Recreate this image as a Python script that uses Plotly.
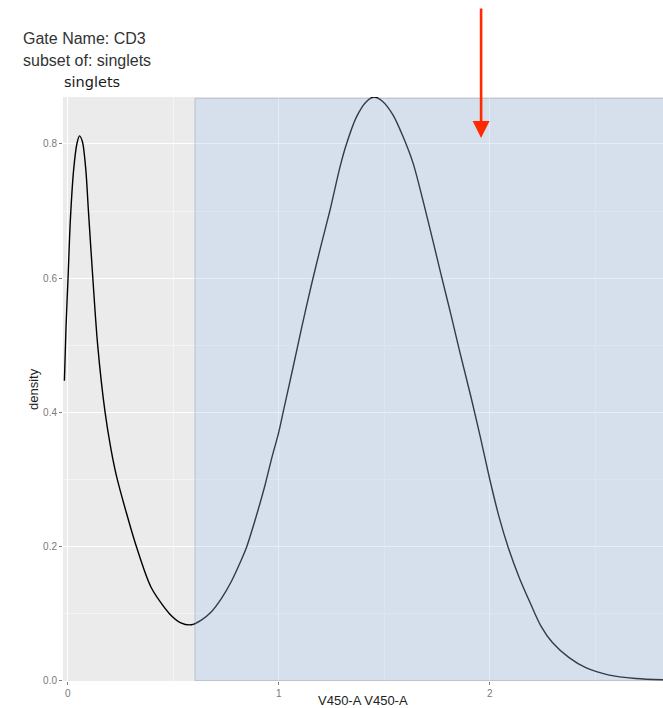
import plotly.graph_objects as go

# density curve
x_vals = [-0.0156, -0.008, 0.0016, 0.0125, 0.028, 0.044, 0.056, 0.070, 0.086, 0.098,
          0.119, 0.142, 0.177, 0.205, 0.231, 0.278, 0.325, 0.395, 0.481, 0.536,
          0.586, 0.633, 0.681, 0.728, 0.776, 0.823, 0.848, 0.886, 0.934, 0.968,
          1.000, 1.021, 1.068, 1.110, 1.155, 1.200, 1.242, 1.289, 1.318, 1.368,
          1.415, 1.452, 1.494, 1.542, 1.589, 1.637, 1.684, 1.731, 1.771, 1.818,
          1.858, 1.913, 1.956, 2.000, 2.044, 2.088, 2.139, 2.194, 2.242, 2.297,
          2.376, 2.455, 2.566, 2.692, 2.817, 2.900]
density_vals = [0.447, 0.527, 0.600, 0.686, 0.761, 0.801, 0.812, 0.803, 0.761, 0.701,
                0.600, 0.500, 0.400, 0.345, 0.305, 0.250, 0.200, 0.139, 0.100, 0.086,
                0.083, 0.090, 0.1025, 0.122, 0.148, 0.180, 0.199, 0.237, 0.290, 0.333,
                0.370, 0.400, 0.467, 0.528, 0.590, 0.648, 0.700, 0.764, 0.797, 0.840,
                0.863, 0.870, 0.863, 0.843, 0.811, 0.771, 0.715, 0.655, 0.603, 0.543,
                0.490, 0.420, 0.362, 0.300, 0.244, 0.198, 0.154, 0.114, 0.0815, 0.0565,
                0.034, 0.019, 0.008, 0.003, 0.001, 0.0005]

gate_min = 0.603
gate_max = 2.9
gate_top = 0.868
arrow_x = 1.959
arrow_y = 0.809

x_ticks = [0, 1, 2]
y_ticks = [0.0, 0.2, 0.4, 0.6, 0.8]
y_tick_labels = ["0.0", "0.2", "0.4", "0.6", "0.8"]

fig = go.Figure()
fig.add_trace(go.Scatter(x=x_vals, y=density_vals, mode="lines",
                         line=dict(color="black", width=1.4, shape="spline", smoothing=0.8),
                         hoverinfo="skip", showlegend=False))

fig.add_shape(type="rect", xref="x", yref="y", x0=gate_min, x1=gate_max, y0=0, y1=gate_top,
              fillcolor="rgba(162,198,238,0.3)", line=dict(color="rgba(120,135,155,0.35)", width=1),
              layer="above")

fig.update_layout(
    width=663, height=708,
    margin=dict(l=63, r=0, t=97, b=27),
    paper_bgcolor="white", plot_bgcolor="#ebebeb",
    xaxis=dict(range=[-0.0223, 2.821], tickvals=x_ticks, ticktext=[str(v) for v in x_ticks],
               showgrid=True, gridcolor="white", gridwidth=1.1, zeroline=False,
               ticks="outside", ticklen=3, tickwidth=1, tickcolor="#7a7a7a",
               tickfont=dict(family="Liberation Sans", size=10, color="#7a7a7a"),
               minor=dict(dtick=0.5, tick0=0, showgrid=True, gridcolor="#f4f4f4", gridwidth=0.6),
               automargin=False, fixedrange=True),
    yaxis=dict(range=[-0.0008, 0.870], tickvals=y_ticks, ticktext=y_tick_labels,
               showgrid=True, gridcolor="white", gridwidth=1.1, zeroline=False,
               ticks="outside", ticklen=3, tickwidth=1, tickcolor="#7a7a7a",
               tickfont=dict(family="Liberation Sans", size=10, color="#7a7a7a"),
               minor=dict(dtick=0.1, tick0=0, showgrid=True, gridcolor="#f4f4f4", gridwidth=0.6),
               automargin=False, fixedrange=True),
    showlegend=False,
)

ann_font = dict(family="Liberation Sans", size=16, color="#333333")
fig.add_annotation(text="Gate Name: CD3", xref="paper", yref="paper", x=0, y=1,
                   xanchor="left", yanchor="middle", xshift=-42, yshift=58.5,
                   showarrow=False, font=ann_font)
fig.add_annotation(text="subset of: singlets", xref="paper", yref="paper", x=0, y=1,
                   xanchor="left", yanchor="middle", xshift=-42, yshift=36.5,
                   showarrow=False, font=ann_font)
fig.add_annotation(text="singlets", xref="paper", yref="paper", x=0, y=1,
                   xanchor="left", yanchor="middle", xshift=-1, yshift=15,
                   showarrow=False, font=dict(family="DejaVu Sans", size=14.5, color="#1a1a1a"))
fig.add_annotation(text="V450-A V450-A", xref="paper", yref="paper", x=0.5, y=0,
                   xanchor="center", yanchor="middle", yshift=-19.5,
                   showarrow=False, font=dict(family="Liberation Sans", size=13, color="#222222"))
fig.add_annotation(text="density", xref="paper", yref="paper", x=0, y=0.5,
                   xanchor="center", yanchor="middle", xshift=-30, textangle=-90,
                   showarrow=False, font=dict(family="Liberation Sans", size=13, color="#222222"))
fig.add_annotation(x=arrow_x, y=arrow_y, xref="x", yref="y", ax=0, ay=-131, axref="pixel", ayref="pixel",
                   text="", showarrow=True, arrowhead=2, arrowsize=1.3, arrowwidth=2.6,
                   arrowcolor="#ff2a00")

fig.write_html("out.html")
